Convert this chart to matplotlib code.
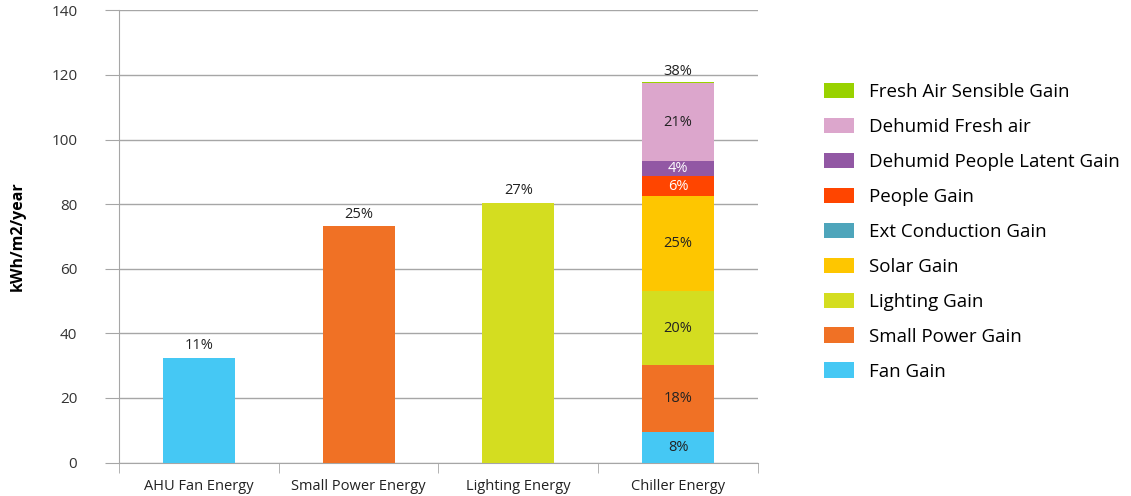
import numpy as np
import matplotlib.pyplot as plt
from matplotlib.patches import Patch

# --- data ---
categories = ["AHU Fan Energy", "Small Power Energy", "Lighting Energy", "Chiller Energy"]
single_values = [32.3, 73.1, 80.3]          # first three bars
single_colors = ["#45c8f4", "#f07125", "#d4dd20"]
single_pcts = ["11%", "25%", "27%"]

# chiller stack, bottom -> top
gain_names = ["Fan Gain", "Small Power Gain", "Lighting Gain", "Solar Gain",
              "Ext Conduction Gain", "People Gain", "Dehumid People Latent Gain",
              "Dehumid Fresh air", "Fresh Air Sensible Gain"]
gain_values = [9.6, 20.6, 22.8, 29.4, 0.0, 6.4, 4.4, 24.3, 0.3]
gain_colors = ["#45c8f4", "#f07125", "#d4dd20", "#fec600",
               "#4ea5bb", "#ff4500", "#9258a4", "#dca6cc", "#99d200"]
gain_pcts = ["8%", "18%", "20%", "25%", "", "6%", "4%", "21%", ""]
gain_pct_colors = ["#222222", "#222222", "#222222", "#222222", "#222222",
                   "white", "white", "#222222", "#222222"]
chiller_pct = "38%"

plt.rcParams['font.family'] = ['Open Sans', 'DejaVu Sans']

fig = plt.figure(figsize=(11.31, 4.96), dpi=100)
ax = fig.add_axes([0.1052, 0.0675, 0.5650, 0.9117])

x = np.arange(len(categories))
width = 0.45
grid_c = "#a6a6a6"

ax.bar(x[:3], single_values, width=width, color=single_colors, zorder=3)
for xi, v, p in zip(x[:3], single_values, single_pcts):
    ax.text(xi, v + 1.5, p, ha="center", va="bottom", fontsize=10.5, color="#222222")

bottom = 0.0
for v, c, p, pc in zip(gain_values, gain_colors, gain_pcts, gain_pct_colors):
    ax.bar(x[3], v, width=width, bottom=bottom, color=c, zorder=3)
    if p:
        ax.text(x[3], bottom + v / 2, p, ha="center", va="center",
                fontsize=10.5, color=pc, zorder=4)
    bottom += v
ax.text(x[3], bottom + 1.0, chiller_pct, ha="center", va="bottom",
        fontsize=10.5, color="#222222")

ax.set_xlim(-0.5, len(categories) - 0.5)
ax.set_ylim(0, 140)
ax.set_yticks(np.arange(0, 141, 20))
ax.yaxis.grid(True, color=grid_c, lw=1, zorder=0)
ax.tick_params(axis="y", length=10, color=grid_c, labelsize=11, labelcolor="#333333", pad=20)

ax.set_xticks(x)
ax.set_xticklabels(categories)
ax.set_xticks(np.arange(-0.5, len(categories)), minor=True)
ax.tick_params(axis="x", which="major", length=0, labelsize=10.5, labelcolor="#222222", pad=12)
ax.tick_params(axis="x", which="minor", length=7, color=grid_c)

for s in ["top", "right"]:
    ax.spines[s].set_visible(False)
ax.spines["left"].set_color(grid_c)
ax.spines["bottom"].set_color(grid_c)

ax.set_ylabel("kWh/m2/year", fontsize=11.5, fontweight="bold", labelpad=18)

handles = [Patch(facecolor=c, edgecolor="none") for c in gain_colors[::-1]]
fig.legend(handles, gain_names[::-1], loc="upper left",
           bbox_to_anchor=(0.7215, 0.848), frameon=False,
           fontsize=13.5, handlelength=1.6, handleheight=0.9,
           handletextpad=0.8, labelspacing=0.89, borderaxespad=0)

fig.savefig("out.png", dpi=100)
